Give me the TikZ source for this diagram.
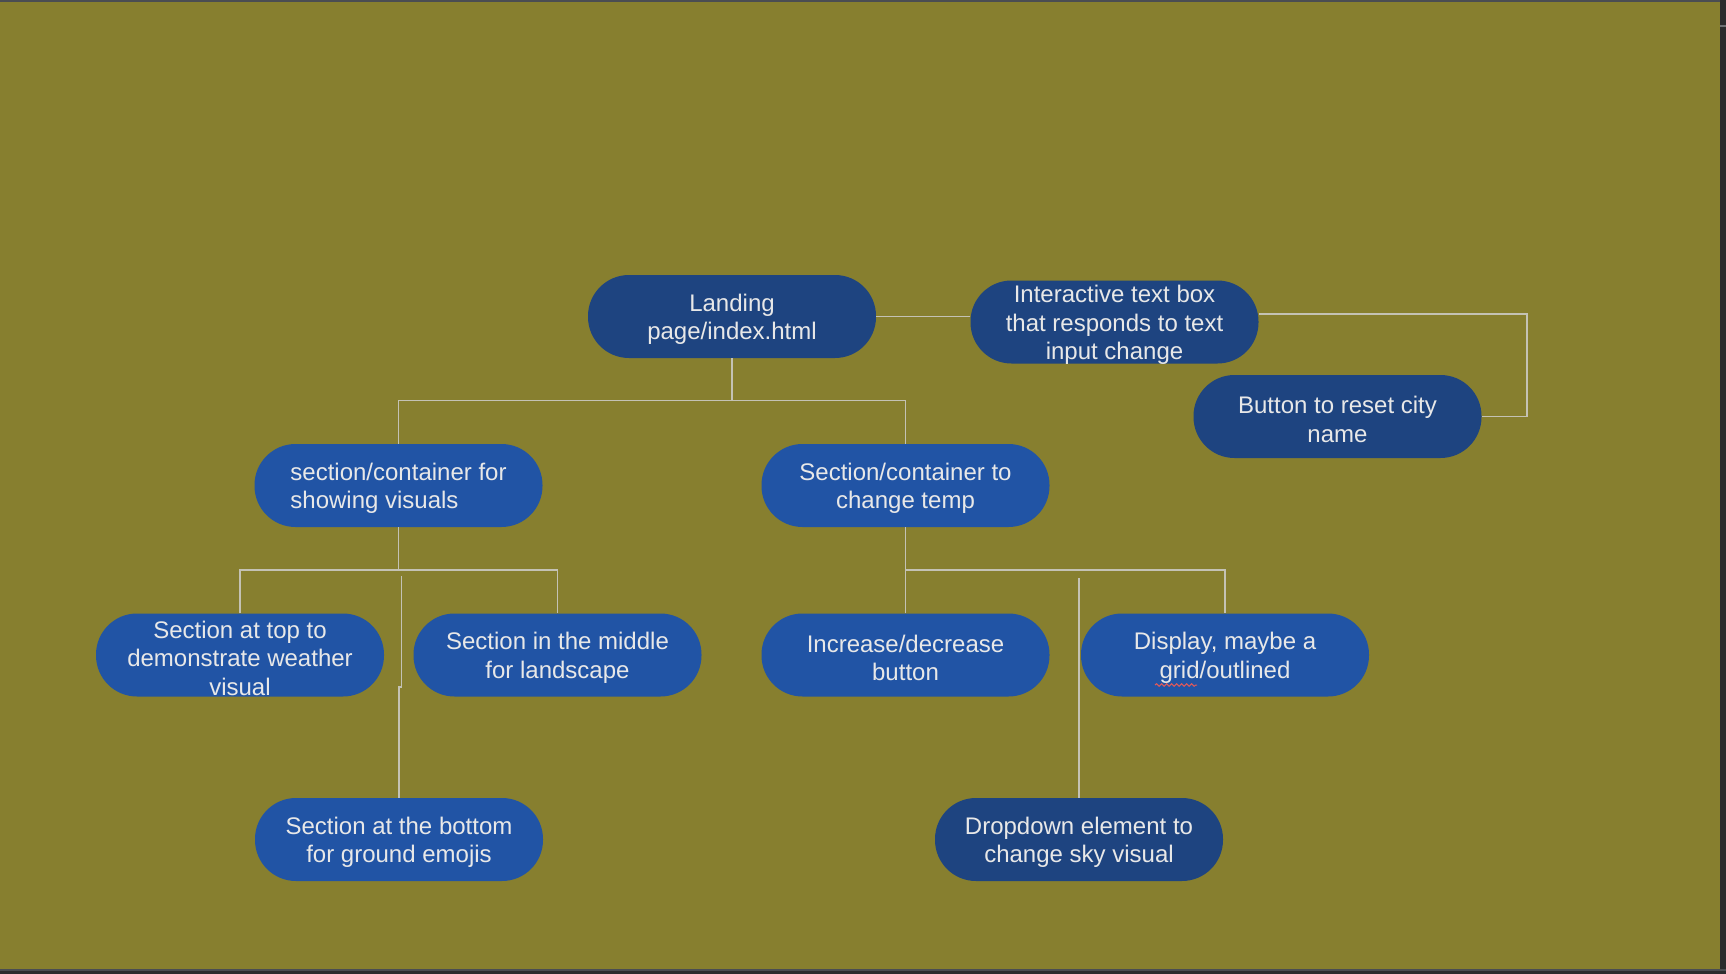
\documentclass[tikz,border=0pt]{standalone}
\usepackage{fontspec}
\setmainfont{Liberation Sans}
\usetikzlibrary{decorations.pathmorphing}
\definecolor{olivebg}{HTML}{877F2F}
\definecolor{darkband}{HTML}{2B2C2E}
\definecolor{topband}{HTML}{4A4D52}
\definecolor{darkblue}{HTML}{1E4480}
\definecolor{lightblue}{HTML}{2154A5}
\definecolor{txtcol}{HTML}{E8E8E8}
\definecolor{linecol}{HTML}{C4C2B4}
\definecolor{squig}{HTML}{E05A5A}
\tikzset{
  box/.style={rectangle, rounded corners=41pt, minimum width=288pt, minimum height=83pt,
    inner sep=0pt},
  darkbox/.style={box, fill=darkblue},
  lightbox/.style={box, fill=lightblue},
  lab/.style={text=txtcol, align=center, inner sep=0pt, yshift=-3pt,
    font=\fontsize{24}{28.5}\selectfont},
  conn/.style={draw=linecol, line width=1.8pt}
}
\begin{document}
\begin{tikzpicture}[x=1pt,y=-1pt]
\useasboundingbox (0,0) rectangle (1726,974);
\fill[darkband] (0,0) rectangle (1726,974);
\fill[topband] (0,0) rectangle (1720,2);
\fill[olivebg] (0,2) rectangle (1720,969);
\fill[topband] (0,969) rectangle (1726,970.5);
\fill[topband!80] (1720,25.5) rectangle (1726,27.5);

\node[darkbox, label={[lab]center:{Landing\\page/index.html}}] (land) at (732,316.5) {};
\node[darkbox, label={[lab]center:{Interactive text box\\that responds to text\\input change}}] (inter) at (1114.5,322) {};
\node[darkbox, label={[lab]center:{Button to reset city\\name}}] (btn) at (1337.5,416.5) {};
\node[lightbox, label={[lab, align=left]center:{section/container for\\showing visuals}}] (vis) at (398.5,485.5) {};
\node[lightbox, label={[lab]center:{Section/container to\\change temp}}] (temp) at (905.5,485.5) {};
\node[lightbox, label={[lab]center:{Section at top to\\demonstrate weather\\visual}}] (top) at (240,655) {};
\node[lightbox, label={[lab]center:{Section in the middle\\for landscape}}] (mid) at (557.5,655) {};
\node[lightbox, label={[lab]center:{Increase/decrease\\button}}] (incdec) at (905.5,655) {};
\node[lightbox, label={[lab]center:{Display, maybe a\\grid/outlined}}] (disp) at (1225,655) {};
\node[lightbox, label={[lab]center:{Section at the bottom\\for ground emojis}}] (bot) at (399,839.5) {};
\node[darkbox, label={[lab]center:{Dropdown element to\\change sky visual}}] (drop) at (1079,839.5) {};

\coordinate (rc) at (1527,314);
\coordinate (j1) at (732,400.5);
\coordinate (j2) at (398.5,570);
\coordinate (j3) at (905.5,570);
\coordinate (b1) at (401.5,576);
\coordinate (b2) at (401.5,687);
\coordinate (d1) at (1079,578);
\coordinate (sq1) at (1155,685);
\coordinate (sq2) at (1197,685);

\draw[conn] (land.east) -- (land.east -| inter.west);
\draw[conn] ([yshift=8pt]inter.east) -- (rc) |- (btn.east);
\draw[conn] (land.south) -- (j1);
\draw[conn] (vis.north) |- (j1) -| (temp.north);
\draw[conn] (vis.south) -- (j2);
\draw[conn] (top.north) |- (j2) -| (mid.north);
\draw[conn] (b1) -- (b2) -| (bot.north);
\draw[conn] (temp.south) -- (j3);
\draw[conn] (incdec.north) |- (j3) -| (disp.north);
\draw[conn] (d1) -- (drop.north);

\draw[squig, line width=1pt, decorate, decoration={snake, segment length=5pt, amplitude=1.3pt}] (sq1) -- (sq2);
\end{tikzpicture}
\end{document}
